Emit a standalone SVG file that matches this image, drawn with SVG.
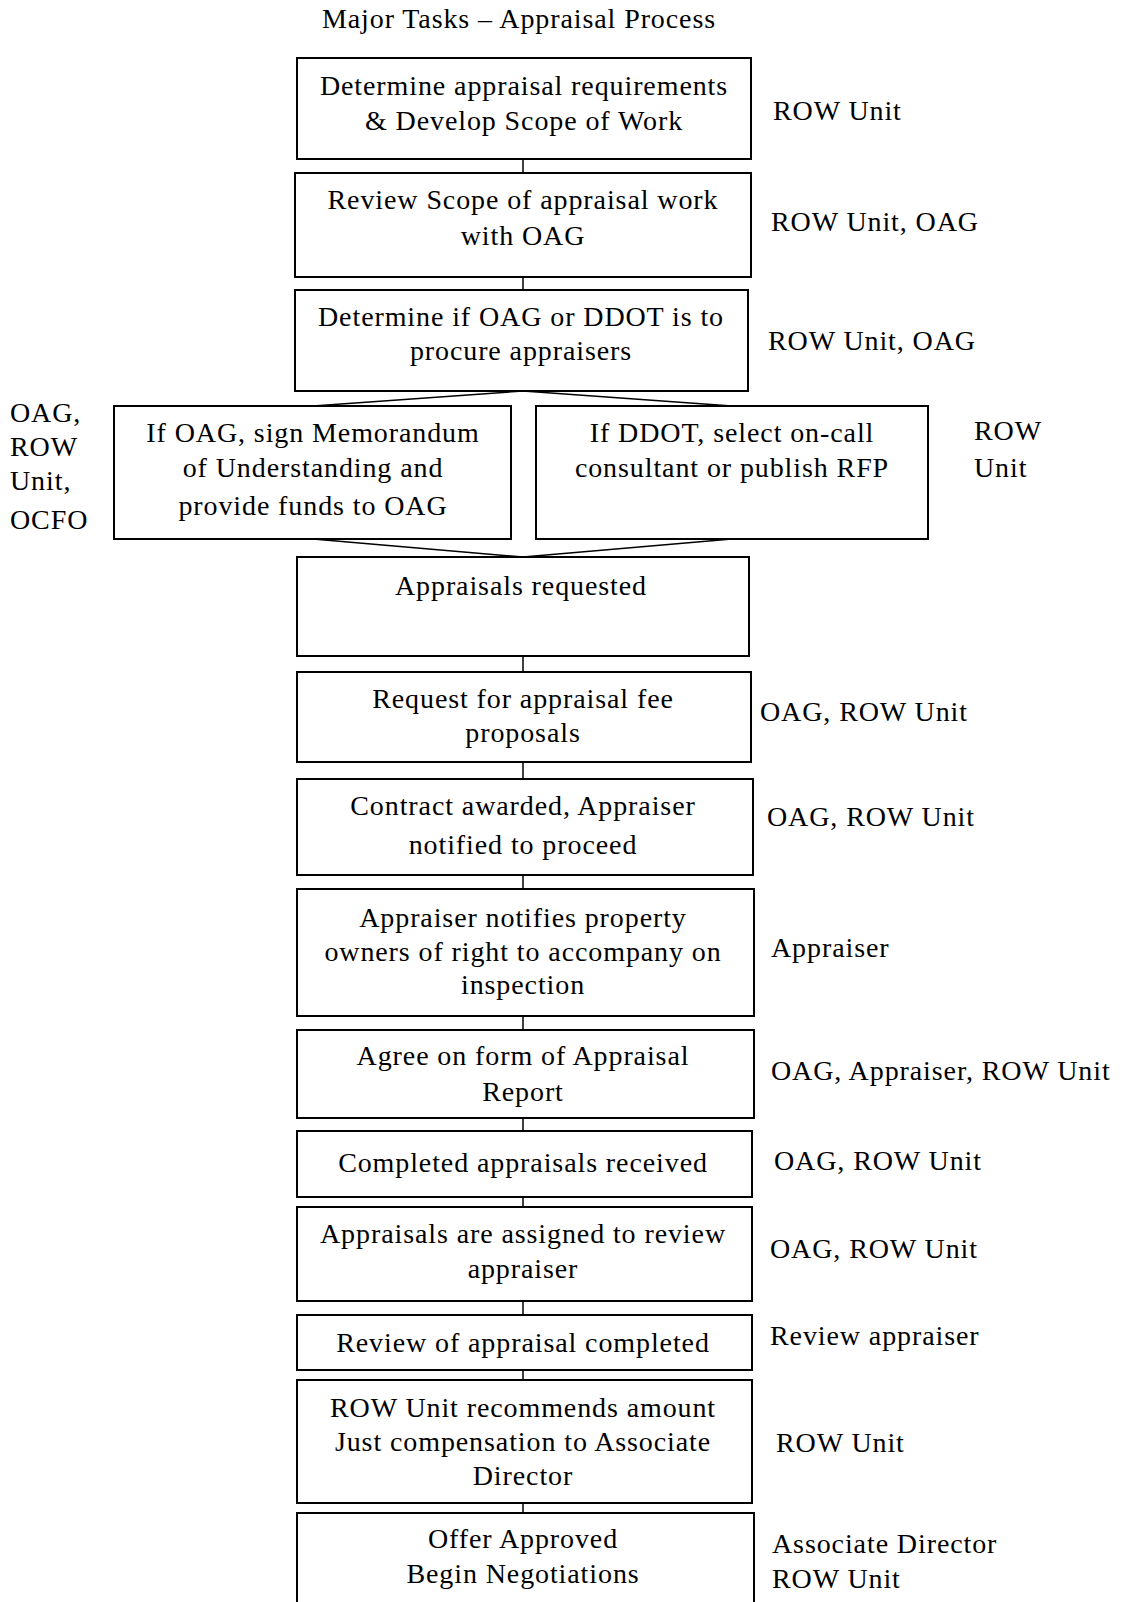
<svg xmlns="http://www.w3.org/2000/svg" width="1123" height="1602" viewBox="0 0 1123 1602">
  <style>
    text { font-family: "Liberation Serif", "Times New Roman", serif; font-size: 28px; letter-spacing: 0.9px; fill: #000; }
    .c { text-anchor: middle; }
    .box { fill: #fff; stroke: #000; stroke-width: 2; }
    .link { fill: none; stroke: #000; stroke-width: 1.5; }
  </style>
  <rect width="1123" height="1602" fill="#fff"/>

  <text id="title" class="c" x="519" y="28">Major Tasks – Appraisal Process</text>

  <!-- connectors -->
  <g id="connectors">
    <line class="link" x1="523" y1="159" x2="523" y2="173"/>
    <line class="link" x1="523" y1="277" x2="523" y2="290"/>
    <polyline class="link" points="313,406 523,391 732,406"/>
    <polyline class="link" points="313,539 523,557 732,539"/>
    <line class="link" x1="523" y1="656" x2="523" y2="672"/>
    <line class="link" x1="523" y1="762" x2="523" y2="779"/>
    <line class="link" x1="523" y1="875" x2="523" y2="889"/>
    <line class="link" x1="523" y1="1016" x2="523" y2="1030"/>
    <line class="link" x1="523" y1="1118" x2="523" y2="1131"/>
    <line class="link" x1="523" y1="1197" x2="523" y2="1207"/>
    <line class="link" x1="523" y1="1301" x2="523" y2="1315"/>
    <line class="link" x1="523" y1="1370" x2="523" y2="1380"/>
    <line class="link" x1="523" y1="1503" x2="523" y2="1513"/>
  </g>

  <g id="n1">
    <rect class="box" x="297" y="58" width="454" height="101"/>
    <text class="c" x="524" y="95">Determine appraisal requirements</text>
    <text class="c" x="524" y="130">&amp; Develop Scope of Work</text>
    <text x="773" y="120">ROW Unit</text>
  </g>

  <g id="n2">
    <rect class="box" x="295" y="173" width="456" height="104"/>
    <text class="c" x="523" y="209">Review Scope of appraisal work</text>
    <text class="c" x="523" y="245">with OAG</text>
    <text x="771" y="231">ROW Unit, OAG</text>
  </g>

  <g id="n3">
    <rect class="box" x="295" y="290" width="453" height="101"/>
    <text class="c" x="521" y="326">Determine if OAG or DDOT is to</text>
    <text class="c" x="521" y="360">procure appraisers</text>
    <text x="768" y="350">ROW Unit, OAG</text>
  </g>

  <g id="n4">
    <rect class="box" x="114" y="406" width="397" height="133"/>
    <text class="c" x="313" y="442">If OAG, sign Memorandum</text>
    <text class="c" x="313" y="477">of Understanding and</text>
    <text class="c" x="313" y="515">provide funds to OAG</text>
    <text x="10" y="422">OAG,</text>
    <text x="10" y="456">ROW</text>
    <text x="10" y="490">Unit,</text>
    <text x="10" y="529">OCFO</text>
  </g>

  <g id="n5">
    <rect class="box" x="536" y="406" width="392" height="133"/>
    <text class="c" x="732" y="442">If DDOT, select on-call</text>
    <text class="c" x="732" y="477">consultant or publish RFP</text>
    <text x="974" y="440">ROW</text>
    <text x="974" y="477">Unit</text>
  </g>

  <g id="n6">
    <rect class="box" x="297" y="557" width="452" height="99"/>
    <text class="c" x="521" y="595">Appraisals requested</text>
  </g>

  <g id="n7">
    <rect class="box" x="297" y="672" width="454" height="90"/>
    <text class="c" x="523" y="708">Request for appraisal fee</text>
    <text class="c" x="523" y="742">proposals</text>
    <text x="760" y="721">OAG, ROW Unit</text>
  </g>

  <g id="n8">
    <rect class="box" x="297" y="779" width="456" height="96"/>
    <text class="c" x="523" y="815">Contract awarded, Appraiser</text>
    <text class="c" x="523" y="854">notified to proceed</text>
    <text x="767" y="826">OAG, ROW Unit</text>
  </g>

  <g id="n9">
    <rect class="box" x="297" y="889" width="457" height="127"/>
    <text class="c" x="523" y="927">Appraiser notifies property</text>
    <text class="c" x="523" y="961">owners of right to accompany on</text>
    <text class="c" x="523" y="994">inspection</text>
    <text x="771" y="957">Appraiser</text>
  </g>

  <g id="n10">
    <rect class="box" x="297" y="1030" width="457" height="88"/>
    <text class="c" x="523" y="1065">Agree on form of Appraisal</text>
    <text class="c" x="523" y="1101">Report</text>
    <text x="771" y="1080">OAG, Appraiser, ROW Unit</text>
  </g>

  <g id="n11">
    <rect class="box" x="297" y="1131" width="455" height="66"/>
    <text class="c" x="523" y="1172">Completed appraisals received</text>
    <text x="774" y="1170">OAG, ROW Unit</text>
  </g>

  <g id="n12">
    <rect class="box" x="297" y="1207" width="455" height="94"/>
    <text class="c" x="523" y="1243">Appraisals are assigned to review</text>
    <text class="c" x="523" y="1278">appraiser</text>
    <text x="770" y="1258">OAG, ROW Unit</text>
  </g>

  <g id="n13">
    <rect class="box" x="297" y="1315" width="455" height="55"/>
    <text class="c" x="523" y="1352">Review of appraisal completed</text>
    <text x="770" y="1345">Review appraiser</text>
  </g>

  <g id="n14">
    <rect class="box" x="297" y="1380" width="455" height="123"/>
    <text class="c" x="523" y="1417">ROW Unit recommends amount</text>
    <text class="c" x="523" y="1451">Just compensation to Associate</text>
    <text class="c" x="523" y="1485">Director</text>
    <text x="776" y="1452">ROW Unit</text>
  </g>

  <g id="n15">
    <rect class="box" x="297" y="1513" width="457" height="100"/>
    <text class="c" x="523" y="1548">Offer Approved</text>
    <text class="c" x="523" y="1583">Begin Negotiations</text>
    <text x="772" y="1553">Associate Director</text>
    <text x="772" y="1588">ROW Unit</text>
  </g>
</svg>
